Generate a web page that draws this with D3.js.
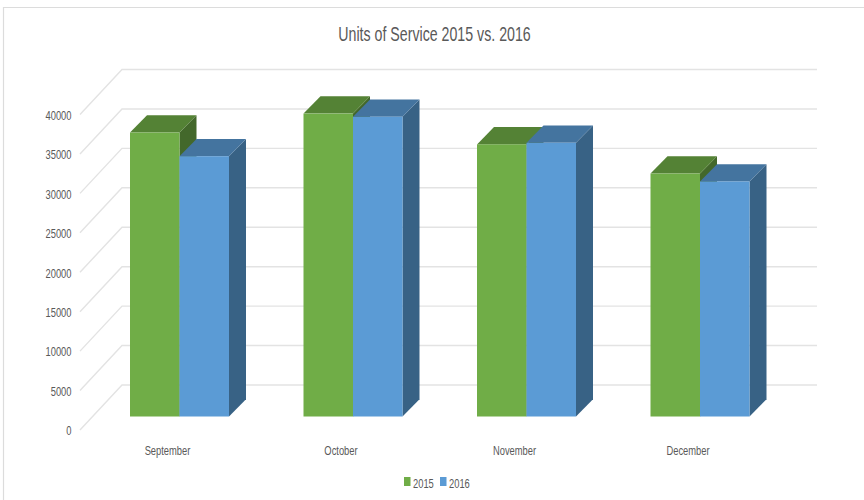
<!DOCTYPE html>
<html><head><meta charset="utf-8">
<style>html,body{margin:0;padding:0;background:#fff}svg{display:block}text{font-family:"Liberation Sans",sans-serif;fill:#595959}</style>
<script src="https://cdn.jsdelivr.net/npm/d3@7/dist/d3.min.js"></script></head><body>
<svg id="c" width="864" height="500"></svg>
<script>
const categories=["September","October","November","December"];
const seriesNames=["2015","2016"];
const values2015=[36000,38400,34500,30800];
const values2016=[33000,38000,34700,29800];
const yTicks=[0,5000,10000,15000,20000,25000,30000,35000,40000];
const fronts=["#70ad47","#5b9bd5"],tops=["#548235","#44749f"],sides=["#43682b","#386285"];

const svg=d3.select("#c");
const y=d3.scaleLinear().domain([0,40000]).range([416.5,101]);
const x0=d3.scaleBand().domain(categories).range([86.4,780.4]);
const barW=49.5,dx=17,dy=17.3;
const x1=d3.scaleBand().domain(seriesNames).range([0,barW*2]);
const groupStart=c=>x0(c)+43.6;
const label=(x,yy,txt,size,anchor,sx)=>svg.append("text")
  .attr("transform",`translate(${x},${yy}) scale(${sx},1)`)
  .attr("text-anchor",anchor).attr("font-size",size).text(txt);

svg.append("path").attr("d","M3.5,500V7.5H864").attr("fill","none").attr("stroke","#dcdcdc").attr("stroke-width",1.2);

label(434.5,41,"Units of Service 2015 vs. 2016",20,"middle",0.71);

const grid=svg.append("g").attr("fill","none").attr("stroke","#e3e3e3").attr("stroke-width",1.4);
yTicks.forEach(t=>{
  const yy=y(t);
  grid.append("path").attr("d",`M80,${yy+13.5}L122,${yy-31.5}H817`);
});
yTicks.forEach(t=>label(71.5,y(t)+18.8,t,12,"end",0.78));

categories.forEach((c,i)=>{
  [values2015,values2016].forEach((vals,s)=>{
    const g=svg.append("g");
    const l=groupStart(c)+x1(seriesNames[s]),r=l+x1.bandwidth(),t=y(vals[i]),b=y(0);
    g.append("path").attr("fill",sides[s]).attr("d",`M${r},${t}l${dx},${-dy}V${b-dy}L${r},${b}Z`);
    g.append("path").attr("fill",tops[s]).attr("d",`M${l},${t}l${dx},${-dy}H${r+dx}L${r},${t}Z`);
    g.append("rect").attr("fill",fronts[s]).attr("x",l).attr("y",t).attr("width",r-l).attr("height",b-t);
  });
  label(groupStart(c)+37.5,454.5,c,12,"middle",0.78);
});

const lx=[404,440];
seriesNames.forEach((n,i)=>{
  svg.append("rect").attr("x",lx[i]).attr("y",477).attr("width",6.5).attr("height",9).attr("fill",fronts[i]);
  label(lx[i]+9,487.5,n,12,"start",0.78);
});
</script></body></html>
